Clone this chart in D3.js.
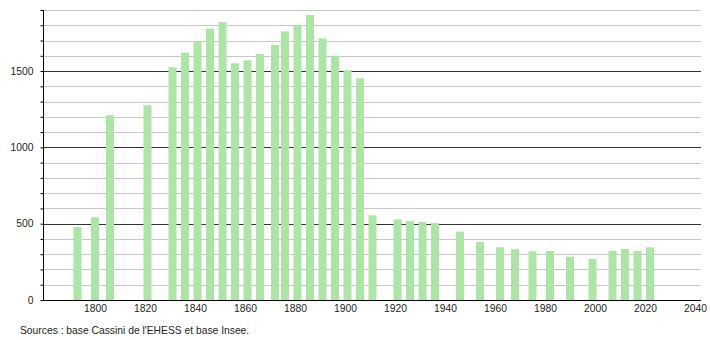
<!DOCTYPE html>
<html><head><meta charset="utf-8">
<script src="https://cdn.jsdelivr.net/npm/d3@7"></script>
<style>
html,body{margin:0;padding:0;background:#fff;}
svg{display:block;font-family:"Liberation Sans",Arial,sans-serif;}
</style></head>
<body>
<svg id="chart" width="710" height="340"></svg>
<script>
const years = [1793,1800,1806,1821,1831,1836,1841,1846,1851,1856,1861,1866,1872,1876,1881,1886,1891,1896,1901,1906,1911,1921,1926,1931,1936,1946,1954,1962,1968,1975,1982,1990,1999,2007,2012,2017,2022];
const population = [477,542,1210,1276,1525,1620,1695,1778,1821,1551,1570,1612,1671,1760,1802,1867,1714,1601,1505,1452,555,529,518,511,504,448,380,345,332,319,321,284,269,321,334,321,345];
const xTicks = [1800,1820,1840,1860,1880,1900,1920,1940,1960,1980,2000,2020,2040];
const yMajor = [0,500,1000,1500];
const sourceText = "Sources : base Cassini de l'EHESS et base Insee.";

(function () {
const svg = d3.select("#chart");
const mLeft = 43, mRight = 701, mTop = 10, mBottom = 300;
const fs = 10.3;
const x = d3.scaleLinear().domain([1779.2, 2042.4]).range([mLeft, mRight]);
const y = d3.scaleLinear().domain([0, 1900]).range([mBottom, mTop]);

const minor = d3.range(100, 1901, 100).filter(v => v % 500 !== 0);

svg.append("g").selectAll("line").data(minor).join("line")
  .attr("x1", mLeft).attr("x2", mRight)
  .attr("y1", d => Math.round(y(d)) + 0.5).attr("y2", d => Math.round(y(d)) + 0.5)
  .attr("stroke", "#c8c8c8").attr("stroke-width", 1);

svg.append("g").selectAll("line").data(yMajor.filter(v => v > 0)).join("line")
  .attr("x1", mLeft).attr("x2", mRight)
  .attr("y1", d => Math.round(y(d)) + 0.5).attr("y2", d => Math.round(y(d)) + 0.5)
  .attr("stroke", "#333").attr("stroke-width", 1);

const bw = 8;
svg.append("g").selectAll("rect").data(years).join("rect")
  .attr("x", d => x(d) - bw / 2)
  .attr("width", bw)
  .attr("y", (d, i) => y(population[i]))
  .attr("height", (d, i) => mBottom - y(population[i]))
  .attr("fill", "#ade5a6");

const yAxis = d3.axisLeft(y).tickValues(d3.range(0, 1901, 100)).tickSize(3)
  .tickFormat(d => yMajor.includes(d) ? d : "");
const gy = svg.append("g").attr("transform", `translate(${mLeft + 0.5},0)`).call(yAxis);
gy.select(".domain").attr("stroke", "#000").attr("d", `M0,${mTop}V${mBottom}`);
gy.selectAll(".tick line").attr("stroke", "#000");
gy.selectAll(".tick text").attr("x", -10).attr("font-size", fs).attr("fill", "#222")
  .attr("font-family", "Liberation Sans, Arial, sans-serif");

const xAxis = d3.axisBottom(x).tickValues(xTicks).tickSize(0).tickFormat(d3.format("d"));
const gx = svg.append("g").attr("transform", `translate(0,${mBottom + 0.5})`).call(xAxis);
gx.select(".domain").attr("stroke", "#000").attr("d", `M${mLeft},0H${mRight}`);
gx.selectAll(".tick text").attr("dy", "0.71em").attr("y", 4).attr("font-size", fs).attr("fill", "#222")
  .attr("font-family", "Liberation Sans, Arial, sans-serif");

svg.append("text").attr("x", 20).attr("y", 334).attr("font-size", fs).attr("fill", "#222")
  .attr("font-family", "Liberation Sans, Arial, sans-serif").text(sourceText);
})();
</script>
</body></html>
